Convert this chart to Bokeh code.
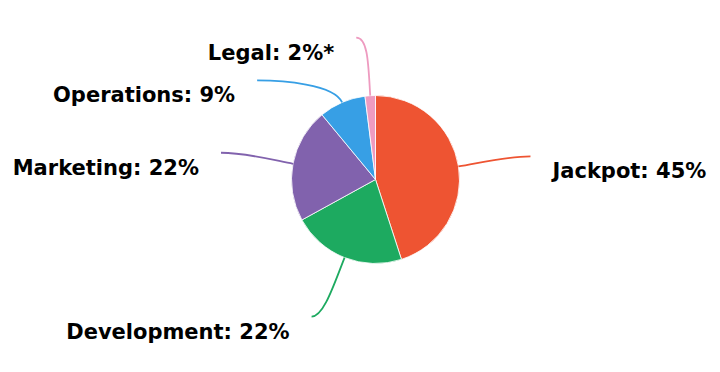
import math
from bokeh.plotting import figure
from bokeh.models import Range1d, ColumnDataSource
from bokeh.core.properties import value
from bokeh.embed import file_html
from bokeh.resources import INLINE

# ---- data ----
categories = ["Jackpot", "Development", "Marketing", "Operations", "Legal"]
shares = [45, 22, 22, 9, 2]
footnotes = ["", "", "", "", "*"]
colors = ["#EE5432", "#1DAA60", "#8162AD", "#379FE5", "#EE9BC0"]

# ---- layout (page pixels) ----
W, H = 712, 364
CX, CY, R = 375, 179, 84
# leader-line end offsets from the slice edge point (page px)
end_dx = [72, -33, -72, -85, -14]
end_dy = [-10, 59, -11, -22, -58]
label_gap_x = 22
label_gap_y = 15

def dy(page_y):
    return 372 - page_y

p = figure(width=W, height=H, output_backend="svg", toolbar_location=None,
           x_range=Range1d(0, W), y_range=Range1d(372 - H, 372), min_border=0)
p.axis.visible = False
p.grid.visible = False
p.outline_line_color = None
p.background_fill_color = "white"
p.border_fill_color = "white"

total = float(sum(shares))
start_cw = []
end_cw = []
acc = 0.0
for s in shares:
    start_cw.append(acc / total * 360.0)
    acc += s
    end_cw.append(acc / total * 360.0)

wsrc = ColumnDataSource(dict(
    x=[CX] * len(shares), y=[dy(CY)] * len(shares),
    start=[math.radians(90 - e) for e in end_cw],
    end=[math.radians(90 - s) for s in start_cw],
    color=colors,
))
p.wedge(x="x", y="y", radius=R, radius_units="screen", start_angle="start",
        end_angle="end", direction="anticlock", fill_color="color",
        line_color="white", line_width=0.8, source=wsrc)

bx0, by0, bx1, by1, cx0, cy0, cx1, cy1 = [], [], [], [], [], [], [], []
lx, ly, ltxt, lalign = [], [], [], []
for i, cat in enumerate(categories):
    mid = math.radians((start_cw[i] + end_cw[i]) / 2)
    ux, uy = math.sin(mid), -math.cos(mid)  # page coords
    px0, py0 = CX + R * ux, CY + R * uy
    px3, py3 = px0 + end_dx[i], py0 + end_dy[i]
    side = 1 if end_dx[i] > 0 else -1
    k1 = 30 if abs(end_dy[i]) > 40 else 20
    px1, py1 = px0 + ux * k1, py0 + uy * k1
    k2 = 12 if abs(end_dy[i]) > 40 else 25
    px2, py2 = px3 - side * k2, py3
    bx0.append(px0); by0.append(dy(py0))
    bx1.append(px3); by1.append(dy(py3))
    cx0.append(px1); cy0.append(dy(py1))
    cx1.append(px2); cy1.append(dy(py2))
    lx.append(px3 + side * label_gap_x)
    ly.append(dy(py3 + label_gap_y))
    ltxt.append(f"{cat}: {shares[i]}%{footnotes[i]}")
    lalign.append("left" if side > 0 else "right")

bsrc = ColumnDataSource(dict(x0=bx0, y0=by0, x1=bx1, y1=by1,
                             cx0=cx0, cy0=cy0, cx1=cx1, cy1=cy1, color=colors))
p.bezier(x0="x0", y0="y0", x1="x1", y1="y1", cx0="cx0", cy0="cy0",
         cx1="cx1", cy1="cy1", line_color="color", line_width=1.8, source=bsrc)

tsrc = ColumnDataSource(dict(x=lx, y=ly, text=ltxt, align=lalign))
p.text(x="x", y="y", text="text", text_align="align", text_baseline="middle",
       text_font=value("DejaVu Sans"), text_font_style="bold",
       text_font_size=value("21px"), text_color="black", source=tsrc)

open("out.html", "w").write(file_html(p, INLINE))
